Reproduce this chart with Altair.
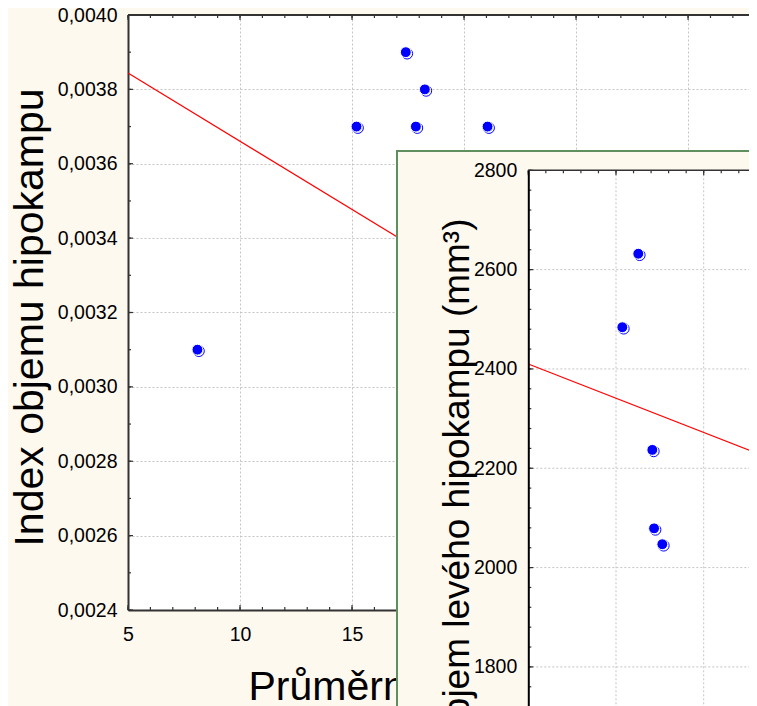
import altair as alt
import pandas as pd

# ---------------- data ----------------
main_x = [8.1, 15.2, 17.4, 17.85, 18.25, 21.05]
main_y = [0.0031, 0.0037, 0.0039, 0.0037, 0.0038, 0.0037]
main_fit_x = [5.0, 32.72]
main_fit_y = [0.003844, 0.002827]
main_x_ticks = [5, 10, 15, 20, 25, 30]
main_y_ticks = [0.0024, 0.0026, 0.0028, 0.0030, 0.0032, 0.0034, 0.0036, 0.0038, 0.0040]
main_x_minor = list(range(5, 33))
main_y_minor = [round(0.0024 + 0.0001 * i, 4) for i in range(17)]

inset_x = [5.36, 6.27, 7.07, 7.17, 7.64]
inset_y = [2484, 2632, 2237, 2079, 2047]
inset_fit_x = [0, 15]
inset_fit_y = [2410, 2203]
inset_x_ticks = [0, 5, 10, 15]
inset_y_ticks = [1800, 2000, 2200, 2400, 2600, 2800]
inset_x_minor = list(range(0, 16))
inset_y_minor = list(range(1720, 2801, 40))

# ---------------- layout / style ----------------
CREAM = "#FEF9EE"
GREEN = "#5F8F5F"
GRID = "#C4C4C4"
AXIS = "#333333"
FONT = "Liberation Sans"
BLUE = "#0000FF"
LABEL_FS = 19.5
PT_SIZE = 118

W, H = 621, 595
IX0, IY0 = 400.3, 155.3
IX1 = IX0 + 15 * 17.54
IY1 = IY0 + 1100 * 0.4966
FAR_X, FAR_Y = W + 60, H + 200

xs_m = alt.Scale(domain=[5, 32.72], nice=False, zero=False)
ys_m = alt.Scale(domain=[0.0024, 0.0040], nice=False, zero=False)
xs_i = alt.Scale(domain=[0, 15], range=[IX0, IX1], nice=False, zero=False)
ys_i = alt.Scale(domain=[1700, 2800], range=[IY1, IY0], nice=False, zero=False)

x_axis_m = alt.Axis(
    values=main_x_ticks, format="d", labelFlush=False, labelOverlap=False,
    ticks=False, domain=True, domainColor=AXIS, domainWidth=2,
    grid=True, gridColor=GRID, gridDash=[2, 2], gridWidth=1,
    labelFont=FONT, labelFontSize=LABEL_FS, labelColor="black", labelPadding=15,
    title="Průměrná denní dávka", titleFont=FONT, titleFontSize=41,
    titleFontWeight="normal", titleColor="black", titleX=120, titleY=89,
    titleAlign="left", titleBaseline="alphabetic", zindex=0)

y_axis_m = alt.Axis(
    values=main_y_ticks, labelExpr="replace(format(datum.value, '.4f'), '.', ',')",
    labelOverlap=False, ticks=False, domain=True, domainColor=AXIS, domainWidth=2,
    grid=True, gridColor=GRID, gridDash=[2, 2], gridWidth=1,
    labelFont=FONT, labelFontSize=LABEL_FS, labelColor="black", labelPadding=11,
    title="Index objemu hipokampu", titleFont=FONT, titleFontSize=41,
    titleFontWeight="normal", titleColor="black", titleX=-86, titleY=302,
    titleAngle=270, titleAlign="center", titleBaseline="alphabetic", zindex=0)

y_axis_i = alt.Axis(
    orient="left", offset=-IX0, values=inset_y_ticks, format="d",
    labelOverlap=False, ticks=False, domain=True, domainColor="black", domainWidth=2,
    grid=False, labelFont=FONT, labelFontSize=LABEL_FS, labelColor="black", labelPadding=11.5,
    title="Objem levého hipokampu (mm³)", titleFont=FONT, titleFontSize=37,
    titleFontWeight="normal", titleColor="black", titleX=-60.3, titleY=203,
    titleAngle=270, titleAlign="right", titleBaseline="alphabetic", zindex=1)

dummy = alt.Data(values=[{}])


def vals(lst):
    return alt.Data(values=[{"v": v} for v in lst])


def mx(f):
    return alt.X(f, scale=xs_m, axis=x_axis_m)


def my(f):
    return alt.Y(f, scale=ys_m, axis=y_axis_m)


def ix(f):
    return alt.X(f, scale=xs_i, axis=None)


def iy(f):
    return alt.Y(f, scale=ys_i, axis=y_axis_i)


# ---------------- main panel ----------------
df_main = pd.DataFrame({"x": main_x, "y": main_y})
df_main_fit = pd.DataFrame({"x": main_fit_x, "y": main_fit_y})

main_fit = alt.Chart(df_main_fit).mark_line(color="#FF0000", strokeWidth=1.2).encode(
    x=mx("x:Q"), y=my("y:Q"))

main_pts_a = alt.Chart(df_main).mark_circle(
    size=PT_SIZE, fill="white", stroke=BLUE, strokeWidth=1, opacity=1,
    xOffset=1.4, yOffset=1.4).encode(x=mx("x:Q"), y=my("y:Q"))
main_pts_b = alt.Chart(df_main).mark_circle(
    size=PT_SIZE, fill=BLUE, stroke="white", strokeWidth=1, opacity=1).encode(
    x=mx("x:Q"), y=my("y:Q"))

tick_style = dict(color=AXIS, strokeWidth=1.2)
main_left_minor = alt.Chart(vals(main_y_minor)).mark_rule(**tick_style).encode(
    y=my("v:Q"), x=alt.value(0), x2=alt.value(3))
main_left_major = alt.Chart(vals(main_y_ticks)).mark_rule(**tick_style).encode(
    y=my("v:Q"), x=alt.value(0), x2=alt.value(5))
main_bottom_minor = alt.Chart(vals(main_x_minor)).mark_rule(**tick_style).encode(
    x=mx("v:Q"), y=alt.value(H), y2=alt.value(H - 3))
main_bottom_major = alt.Chart(vals(main_x_ticks)).mark_rule(**tick_style).encode(
    x=mx("v:Q"), y=alt.value(H), y2=alt.value(H - 5))
main_top_minor = alt.Chart(vals(main_x_minor)).mark_rule(**tick_style).encode(
    x=mx("v:Q"), y=alt.value(0), y2=alt.value(3))
main_top_major = alt.Chart(vals(main_x_ticks)).mark_rule(**tick_style).encode(
    x=mx("v:Q"), y=alt.value(0), y2=alt.value(5))
main_top_border = alt.Chart(dummy).mark_rule(color=AXIS, strokeWidth=2).encode(
    x=alt.value(0), x2=alt.value(W), y=alt.value(0))

main = alt.layer(main_fit, main_left_minor, main_left_major, main_bottom_minor,
                 main_bottom_major, main_top_minor, main_top_major, main_top_border,
                 main_pts_a, main_pts_b)

# ---------------- inset panel ----------------
df_in = pd.DataFrame({"x": inset_x, "y": inset_y})
df_in_fit = pd.DataFrame({"x": inset_fit_x, "y": inset_fit_y})

panel_bg = alt.Chart(dummy).mark_rect(fill=CREAM, stroke=GREEN, strokeWidth=2).encode(
    x=alt.value(269), x2=alt.value(FAR_X), y=alt.value(136), y2=alt.value(FAR_Y))
plot_bg = alt.Chart(dummy).mark_rect(fill="white").encode(
    x=alt.value(IX0), x2=alt.value(FAR_X), y=alt.value(IY0), y2=alt.value(FAR_Y))

grid_style = dict(color=GRID, strokeDash=[2, 2], strokeWidth=1)
in_grid_y = alt.Chart(vals(inset_y_ticks[:-1])).mark_rule(**grid_style).encode(
    y=iy("v:Q"), x=alt.value(IX0), x2=alt.value(FAR_X))
in_grid_x = alt.Chart(vals(inset_x_ticks[1:])).mark_rule(**grid_style).encode(
    x=ix("v:Q"), y=alt.value(IY0), y2=alt.value(FAR_Y))

in_top_border = alt.Chart(dummy).mark_rule(color=AXIS, strokeWidth=1.5).encode(
    x=alt.value(IX0), x2=alt.value(FAR_X), y=alt.value(IY0))

in_left_minor = alt.Chart(vals(inset_y_minor)).mark_rule(**tick_style).encode(
    y=iy("v:Q"), x=alt.value(IX0), x2=alt.value(IX0 + 3))
in_left_major = alt.Chart(vals(inset_y_ticks)).mark_rule(**tick_style).encode(
    y=iy("v:Q"), x=alt.value(IX0), x2=alt.value(IX0 + 5))
in_top_minor = alt.Chart(vals(inset_x_minor)).mark_rule(**tick_style).encode(
    x=ix("v:Q"), y=alt.value(IY0), y2=alt.value(IY0 + 3))
in_top_major = alt.Chart(vals(inset_x_ticks)).mark_rule(**tick_style).encode(
    x=ix("v:Q"), y=alt.value(IY0), y2=alt.value(IY0 + 5))

in_fit = alt.Chart(df_in_fit).mark_line(color="#FF0000", strokeWidth=1.2).encode(
    x=ix("x:Q"), y=iy("y:Q"))
in_pts_a = alt.Chart(df_in).mark_circle(
    size=PT_SIZE, fill="white", stroke=BLUE, strokeWidth=1, opacity=1,
    xOffset=1.4, yOffset=1.4).encode(x=ix("x:Q"), y=iy("y:Q"))
in_pts_b = alt.Chart(df_in).mark_circle(
    size=PT_SIZE, fill=BLUE, stroke="white", strokeWidth=1, opacity=1).encode(
    x=ix("x:Q"), y=iy("y:Q"))

inset = alt.layer(panel_bg, plot_bg, in_grid_y, in_grid_x, in_top_border,
                  in_left_minor, in_left_major, in_top_minor, in_top_major,
                  in_fit, in_pts_a, in_pts_b)

chart = alt.layer(main, inset).resolve_scale(
    x="independent", y="independent"
).properties(
    width=W, height=H,
    autosize=alt.AutoSizeParams(type="none"),
    padding={"left": 120, "top": 7, "right": 0, "bottom": 96},
    background=CREAM,
).configure(font=FONT).configure_view(stroke="transparent", fill="white")

chart.save("out.html", embed_options={"renderer": "svg", "actions": False})
